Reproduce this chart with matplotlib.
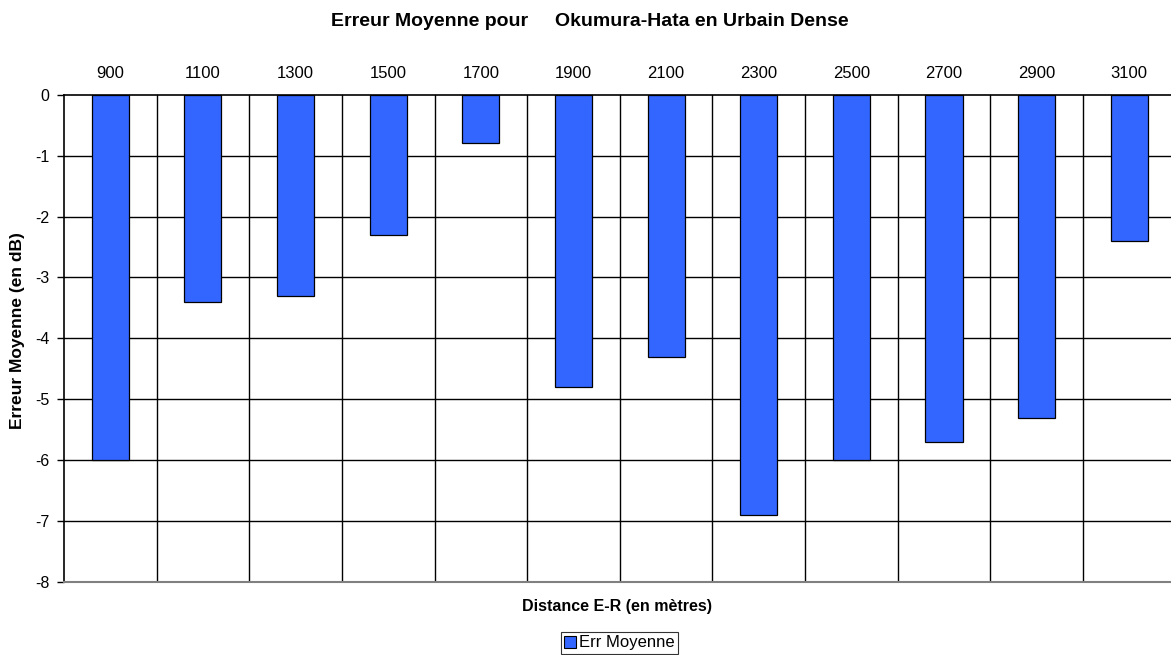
import matplotlib
matplotlib.use("Agg")
import matplotlib.pyplot as plt
from matplotlib.patches import Patch
import numpy as np

plt.rcParams['font.family'] = ['Liberation Sans', 'DejaVu Sans']

distances = ["900", "1100", "1300", "1500", "1700", "1900", "2100",
             "2300", "2500", "2700", "2900", "3100"]
err_moyenne = [-6.0, -3.4, -3.3, -2.3, -0.8, -4.8, -4.3, -6.9, -6.0, -5.7, -5.3, -2.4]
y_ticks = [0, -1, -2, -3, -4, -5, -6, -7, -8]

W, H = 1171, 655
fig = plt.figure(figsize=(W / 100, H / 100), dpi=100)
left, right, top, bottom = 64, 1175.6, 94.7, 582
ax = fig.add_axes([left / W, 1 - bottom / H, (right - left) / W, (bottom - top) / H])

x = np.arange(len(distances))
ax.bar(x, err_moyenne, width=0.4, color="#3366FF", edgecolor="black",
       linewidth=0.9, zorder=3, label="Err Moyenne")

ax.set_xlim(-0.5, len(distances) - 0.5)
ax.set_ylim(-8, 0)

# category boundaries and value gridlines
for b in np.arange(0.5, len(distances) - 0.5, 1.0):
    ax.axvline(b, color="black", linewidth=1.0, zorder=1)
for v in y_ticks[1:-1]:
    ax.axhline(v, color="black", linewidth=1.0, zorder=1)

ax.set_yticks(y_ticks)
ax.set_yticklabels([str(v) for v in y_ticks], fontsize=11.5)
ax.tick_params(axis="y", direction="out", length=5, width=1, pad=5.5)

ax.set_xticks(x)
ax.set_xticklabels(distances, fontsize=12)
ax.xaxis.tick_top()
ax.tick_params(axis="x", length=0, pad=10)

ax.spines["right"].set_visible(False)
ax.spines["left"].set_color("black")
ax.spines["left"].set_linewidth(1.2)
ax.spines["top"].set_color("black")
ax.spines["top"].set_linewidth(1.2)
ax.spines["bottom"].set_color("#808080")
ax.spines["bottom"].set_linewidth(1.5)

fig.text(590 / W, 1 - 26 / H, "Erreur Moyenne pour     Okumura-Hata en Urbain Dense",
         ha="center", va="baseline", fontsize=14, fontweight="bold")
fig.text(18 / W, 1 - 331 / H, "Erreur Moyenne (en dB)", rotation=90,
         ha="center", va="center", fontsize=12.5, fontweight="bold")
fig.text(617 / W, 1 - 607 / H, "Distance E-R (en mètres)",
         ha="center", va="center", fontsize=11.5, fontweight="bold")

handles = [Patch(facecolor="#3366FF", edgecolor="black", linewidth=0.8)]
leg = fig.legend(handles, ["Err Moyenne"], loc="center",
                 bbox_to_anchor=(619.5 / W, 1 - 643 / H), fontsize=12,
                 frameon=True, fancybox=False, edgecolor="black",
                 handlelength=0.7, handleheight=0.7, handletextpad=0.2,
                 borderpad=0.2, borderaxespad=0)
leg.get_frame().set_linewidth(0.8)

fig.savefig("out.png", dpi=100)
